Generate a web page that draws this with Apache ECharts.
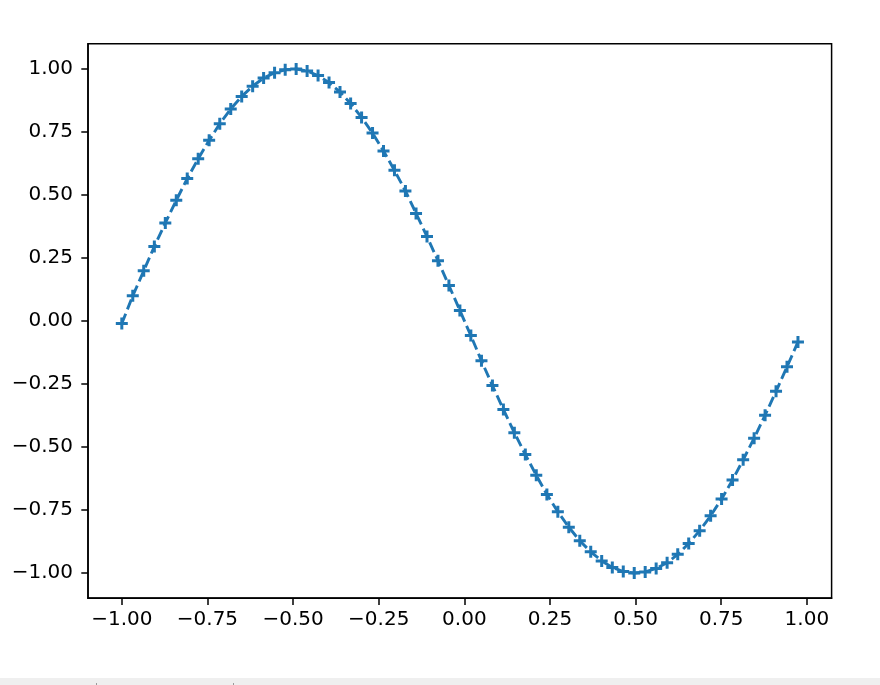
<!DOCTYPE html>
<html>
<head>
<meta charset="utf-8">
<script src="https://cdn.jsdelivr.net/npm/echarts@6/dist/echarts.min.js"></script>
<style>
  html, body { margin: 0; padding: 0; background: #ffffff; }
  #chart { width: 880px; height: 685px; }
</style>
</head>
<body>
<div id="chart"></div>
<script>
const xValues = [
  -1.000, -0.968, -0.936, -0.905, -0.873, -0.841, -0.809, -0.777, -0.745, -0.714,
  -0.682, -0.650, -0.618, -0.586, -0.554, -0.523, -0.491, -0.459, -0.427, -0.395,
  -0.363, -0.332, -0.300, -0.268, -0.236, -0.204, -0.172, -0.141, -0.109, -0.077,
  -0.045, -0.013, 0.019, 0.050, 0.082, 0.114, 0.146, 0.178, 0.210, 0.241,
  0.273, 0.305, 0.337, 0.369, 0.401, 0.432, 0.464, 0.496, 0.528, 0.560,
  0.592, 0.623, 0.655, 0.687, 0.719, 0.751, 0.783, 0.814, 0.846, 0.878,
  0.910, 0.942, 0.974
];
const yValues = [
  -0.010, 0.100, 0.199, 0.296, 0.389, 0.479, 0.565, 0.644, 0.717, 0.783,
  0.841, 0.891, 0.932, 0.964, 0.985, 0.997, 1.000, 0.992, 0.974, 0.946,
  0.909, 0.863, 0.808, 0.746, 0.675, 0.598, 0.516, 0.427, 0.335, 0.239,
  0.141, 0.042, -0.058, -0.158, -0.256, -0.351, -0.443, -0.530, -0.612, -0.688,
  -0.757, -0.818, -0.872, -0.916, -0.952, -0.978, -0.994, -1.000, -0.996, -0.982,
  -0.959, -0.926, -0.883, -0.832, -0.773, -0.706, -0.631, -0.551, -0.465, -0.374,
  -0.279, -0.182, -0.083
];
const xTicks = [-1.00, -0.75, -0.50, -0.25, 0.00, 0.25, 0.50, 0.75, 1.00];
const yTicks = [-1.00, -0.75, -0.50, -0.25, 0.00, 0.25, 0.50, 0.75, 1.00];

const fmt = v => (v < -1e-9 ? '\u2212' : '') + Math.abs(v).toFixed(2);
const blue = '#1f77b4';
const font = 'DejaVu Sans';

const chart = echarts.init(document.getElementById('chart'), null, { renderer: 'canvas' });
chart.setOption({
  animation: false,
  backgroundColor: '#ffffff',
  grid: {
    left: 88, top: 43.8, width: 743.6, height: 554.4,
    show: true, borderColor: '#000', borderWidth: 1.5, backgroundColor: 'transparent',
    containLabel: false
  },
  xAxis: {
    type: 'value',
    min: -1.0987, max: 1.0722,
    splitLine: { show: false },
    axisLine: { show: true, onZero: false, lineStyle: { color: '#000', width: 1.5 } },
    axisTick: { show: true, inside: false, length: 6.7, lineStyle: { color: '#000', width: 1.5 }, customValues: xTicks },
    axisLabel: { show: true, margin: 12, color: '#000', fontFamily: font, fontSize: 20, formatter: fmt, customValues: xTicks }
  },
  yAxis: {
    type: 'value',
    min: -1.1, max: 1.1,
    splitLine: { show: false },
    axisLine: { show: true, onZero: false, lineStyle: { color: '#000', width: 1.5 } },
    axisTick: { show: true, inside: false, length: 6.7, lineStyle: { color: '#000', width: 1.5 }, customValues: yTicks },
    axisLabel: { show: true, margin: 15, color: '#000', fontFamily: font, fontSize: 20, formatter: fmt, customValues: yTicks }
  },
  graphic: [
    { type: 'rect', shape: { x: 0, y: 678, width: 880, height: 7 }, style: { fill: '#efefef' }, silent: true },
    { type: 'line', shape: { x1: 96.5, y1: 683, x2: 96.5, y2: 685 }, style: { stroke: '#999', lineWidth: 1 }, silent: true },
    { type: 'line', shape: { x1: 233.5, y1: 683, x2: 233.5, y2: 685 }, style: { stroke: '#999', lineWidth: 1 }, silent: true }
  ],
  series: [{
    type: 'line',
    data: xValues.map((x, i) => [x, yValues[i]]),
    showAllSymbol: true,
    symbol: 'path://M3.75,0 L6.25,0 L6.25,3.75 L10,3.75 L10,6.25 L6.25,6.25 L6.25,10 L3.75,10 L3.75,6.25 L0,6.25 L0,3.75 L3.75,3.75 Z',
    symbolSize: 12,
    itemStyle: { color: blue, borderWidth: 0 },
    lineStyle: { color: blue, width: 2.9, type: [10.6, 4.6], cap: 'butt' },
    clip: false,
    emphasis: { disabled: true }
  }]
});
</script>
</body>
</html>
